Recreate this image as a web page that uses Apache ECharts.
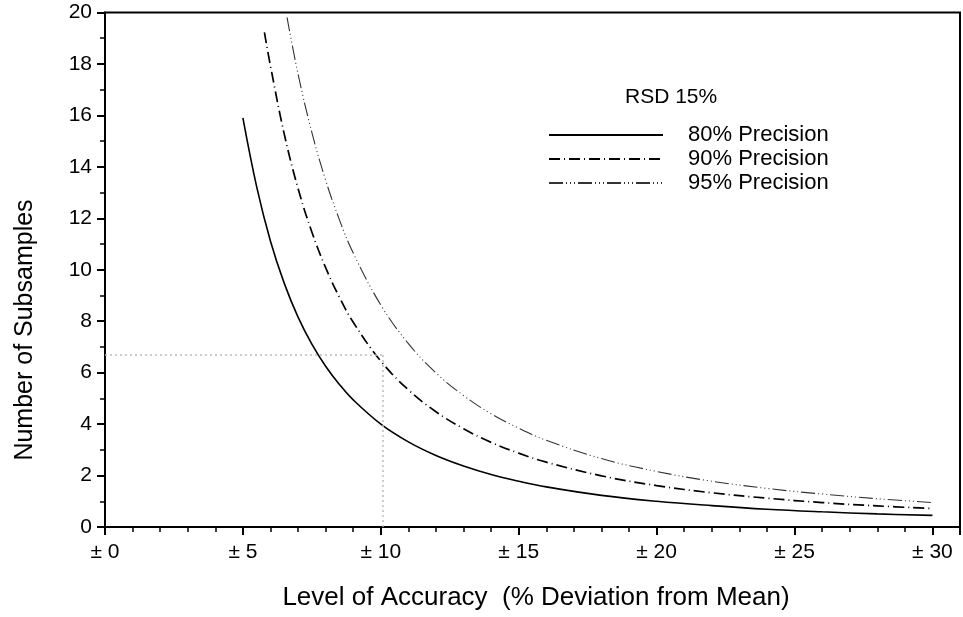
<!DOCTYPE html>
<html>
<head>
<meta charset="utf-8">
<script src="https://cdn.jsdelivr.net/npm/echarts@6/dist/echarts.min.js"></script>
<style>
  html, body { margin: 0; padding: 0; background: #fff; }
  #chart { width: 963px; height: 617px; }
</style>
</head>
<body>
<div id="chart"></div>
<script>
// values
const xs80 = [5, 5.5, 6, 6.5, 7, 7.5, 8, 8.5, 9, 10, 11, 12, 13, 14, 15, 16, 18, 20, 22, 24, 26, 28, 30];
const p80 = [15.9, 13.22, 11.11, 9.47, 8.16, 7.11, 6.25, 5.54, 4.94, 4.0, 3.31, 2.78, 2.37, 2.04, 1.78, 1.56, 1.23, 1.0, 0.83, 0.69, 0.59, 0.51, 0.45];
const xs90 = [5.78, 6, 6.5, 7, 7.5, 8, 8.5, 9, 10, 11, 12, 13, 14, 15, 16, 18, 20, 22, 24, 26, 28, 30];
const p90 = [19.23, 17.92, 15.27, 13.16, 11.47, 10.08, 8.93, 7.96, 6.45, 5.33, 4.48, 3.82, 3.29, 2.87, 2.52, 1.99, 1.61, 1.33, 1.12, 0.95, 0.82, 0.72];
const xs95 = [6.6, 7, 7.5, 8, 8.5, 9, 10, 11, 12, 13, 14, 15, 16, 18, 20, 22, 24, 26, 28, 30];
const p95 = [19.81, 17.61, 15.34, 13.48, 11.94, 10.65, 8.63, 7.13, 5.99, 5.11, 4.40, 3.84, 3.37, 2.66, 2.16, 1.78, 1.50, 1.28, 1.10, 0.95];
const seriesNames = ['80% Precision', '90% Precision', '95% Precision'];
const refPoint = [10.06, 6.7];

const font = 'Liberation Sans, Arial, sans-serif';
const pairs = (xs, ys) => xs.map((x, i) => [x, ys[i]]);

const chart = echarts.init(document.getElementById('chart'));

chart.setOption({
  animation: false,
  title: {
    text: 'RSD 15%',
    left: 620,
    top: 82,
    textStyle: { fontFamily: font, fontSize: 21, fontWeight: 'normal', color: '#000' }
  },
  legend: {
    orient: 'vertical',
    left: 543,
    top: 119,
    itemWidth: 114,
    itemHeight: 12,
    itemGap: 2,
    data: seriesNames,
    itemStyle: { opacity: 0 },
    textStyle: { fontFamily: font, fontSize: 22, color: '#000', padding: [0, 0, 0, 20] }
  },
  grid: {
    left: 105, right: 1, top: 12.5, bottom: 90,
    show: true, borderColor: '#000', borderWidth: 2, backgroundColor: 'transparent'
  },
  xAxis: {
    type: 'value',
    min: 0, max: 31, interval: 5,
    axisLine: { lineStyle: { color: '#000', width: 2 } },
    axisTick: { inside: false, length: 8, lineStyle: { color: '#000', width: 2 } },
    minorTick: { show: true, splitNumber: 5, length: 5, lineStyle: { color: '#000', width: 1.5 } },
    splitLine: { show: false },
    axisLabel: {
      margin: 15,
      fontFamily: font, fontSize: 21, color: '#000',
      formatter: v => (v > 30 ? '' : '\u00b1 ' + v)
    }
  },
  yAxis: {
    type: 'value',
    min: 0, max: 20, interval: 2,
    axisLine: { show: true, lineStyle: { color: '#000', width: 2 } },
    axisTick: { show: true, length: 8, lineStyle: { color: '#000', width: 2 } },
    minorTick: { show: true, splitNumber: 2, length: 5, lineStyle: { color: '#000', width: 1.5 } },
    splitLine: { show: false },
    axisLabel: { margin: 13, fontFamily: font, fontSize: 21, color: '#000' }
  },
  graphic: [
    {
      type: 'text', x: 536, y: 598,
      style: { text: 'Level of Accuracy  (% Deviation from Mean)', font: '26px ' + font, fill: '#000', align: 'center', verticalAlign: 'middle' }
    },
    {
      type: 'text', x: 25, y: 330, rotation: Math.PI / 2,
      style: { text: 'Number of Subsamples', font: '25px ' + font, fill: '#000', align: 'center', verticalAlign: 'middle' }
    }
  ],
  series: [
    {
      name: seriesNames[0], type: 'line', smooth: 0.4,
      showSymbol: false, symbol: 'none',
      color: '#000',
      lineStyle: { color: '#000', width: 1.6, type: 'solid' },
      data: pairs(xs80, p80),
      markLine: {
        silent: true, symbol: 'none', label: { show: false },
        lineStyle: { color: '#bdbdbd', width: 1.5, type: [2, 3] },
        data: [
          [{ coord: [0, refPoint[1]] }, { coord: [refPoint[0], refPoint[1]] }],
          [{ coord: [refPoint[0], 0] }, { coord: [refPoint[0], refPoint[1]] }]
        ]
      }
    },
    {
      name: seriesNames[1], type: 'line', smooth: 0.4,
      showSymbol: false, symbol: 'none',
      color: '#000',
      lineStyle: { color: '#000', width: 1.7, type: [11, 4, 1, 4] },
      data: pairs(xs90, p90)
    },
    {
      name: seriesNames[2], type: 'line', smooth: 0.4,
      showSymbol: false, symbol: 'none',
      color: '#333',
      lineStyle: { color: '#333', width: 1.1, type: [14, 3, 1, 3, 1, 3, 1, 3] },
      data: pairs(xs95, p95)
    }
  ]
});
</script>
</body>
</html>
